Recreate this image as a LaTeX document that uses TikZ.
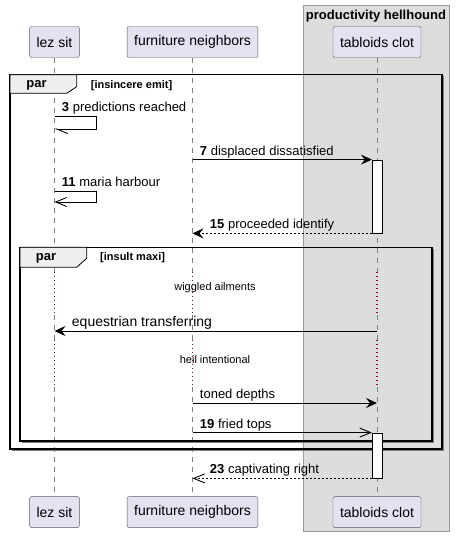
\documentclass[tikz,border=0pt]{standalone}
\usepackage{fontspec}
\setmainfont{Liberation Sans}
\usetikzlibrary{arrows.meta,positioning,calc}
\definecolor{partfill}{HTML}{E2E2F0}
\definecolor{partline}{HTML}{5A5A5A}
\definecolor{boxfill}{HTML}{DDDDDD}
\definecolor{tabfill}{HTML}{EEEEEE}
\definecolor{delayred}{HTML}{A80036}

\begin{document}
\begin{tikzpicture}[x=1pt,y=-1pt,
	main/.style = {draw=partline, fill=partfill, rounded corners=2pt, minimum height=31pt, inner xsep=7pt, font=\fontsize{14}{16}\selectfont},
	life/.style = {gray, dash pattern=on 5pt off 5pt, line width=0.6pt},
	delayline/.style = {delayred, dash pattern=on 1.2pt off 2.8pt, line width=1.2pt},
	act/.style = {draw, fill=white, minimum width=10pt, inner sep=0pt, line width=0.8pt},
	msg/.style = {line width=0.9pt, -{Stealth[length=11pt,width=10pt,inset=4pt]}},
	openmsg/.style = {line width=0.9pt, -{Straight Barb[length=11pt,width=9pt]}},
	halfmsg/.style = {line width=0.9pt, -{Straight Barb[length=11pt,width=9pt,left]}},
	ret/.style = {dash pattern=on 2pt off 2pt},
	lbl/.style = {anchor=base west, inner sep=0pt, font=\fontsize{13}{15}\selectfont},
	parframe/.style = {line width=1.5pt},
	partab/.style = {draw, fill=tabfill, line width=0.8pt},
	cond/.style = {anchor=west, inner sep=0pt, font=\bfseries\fontsize{11}{13}\selectfont},
	delaytext/.style = {inner sep=0pt, font=\fontsize{11}{13}\selectfont}]
	\useasboundingbox[fill=white] (0,0) rectangle (456,536);
	
	%Box round tabloids clot
	\draw[fill=boxfill, draw=gray!80] (303,5) rectangle (449,531);
	\node[font=\bfseries\fontsize{13}{15}\selectfont] (boxtitle) at (376,16) {productivity hellhound};
	
	%Participants on top
	\node[main] (lez) at (54.5,42) {lez sit};
	\node[main] (fur) at (192.5,42) {furniture neighbors};
	\node[main] (tab) at (377,42) {tabloids clot};
	%Participants at the bottom
	\node[main] (lezb) [below=438.7pt of lez] {lez sit};
	\node[main] (furb) [below=438.7pt of fur] {furniture neighbors};
	\node[main] (tabb) [below=438.7pt of tab] {tabloids clot};
	
	%Lifelines, dotted where the delays are
	\foreach \p/\q in {lez/lezb, fur/furb, tab/tabb} {
		\draw[life] (\p.south) -- (\p.south |- 0,272);
		\draw[delayline] (\p.south |- 0,272) -- (\p.south |- 0,315);
		\draw[life] (\p.south |- 0,315) -- (\p.south |- 0,340);
		\draw[delayline] (\p.south |- 0,340) -- (\p.south |- 0,387);
		\draw[life] (\p.south |- 0,387) -- (\q.north);
	}
	
	%Outer par
	\draw[gray, line width=1pt] (443.5,76.2) -- (443.5,450.5) -- (11.5,450.5);
	\draw[parframe] (10,74.7) rectangle (442,449);
	\draw[partab] (10,74.7) -- (76.7,74.7) -- (76.7,86.7) -- (66.7,93.3) -- (10,93.3) -- cycle;
	\node[font=\bfseries\fontsize{13}{15}\selectfont, inner sep=0pt] (par1) at (36.5,85) {par};
	\node[cond] (cond1) at (90.7,85.5) {[insincere emit]};
	
	%Inner par
	\draw[gray, line width=1pt] (433.5,248.5) -- (433.5,442.5) -- (21.5,442.5);
	\draw[parframe] (20,247.3) rectangle (432,441);
	\draw[partab] (20,247.3) -- (86.7,247.3) -- (86.7,258.3) -- (76.7,267.3) -- (20,267.3) -- cycle;
	\node[font=\bfseries\fontsize{13}{15}\selectfont, inner sep=0pt] (par2) at (46,258.5) {par};
	\node[cond] (cond2) at (100,258) {[insult maxi]};
	
	%Activations on tabloids clot
	\node[act, minimum height=73pt] (act1) at (377.3,196.5) {};
	\node[act, minimum height=45pt] (act2) at (377.3,455.5) {};
	
	%Messages
	\draw[halfmsg] (lez.south |- 0,116) -- node[lbl, pos=0, xshift=7pt, yshift=4.5pt] {\textbf{3} predictions reached} ++(42,0) -- ++(0,13) -- ++(-42,0); %lez sit -> lez sit
	\draw[msg] (fur.south |- act1.north) -- node[lbl, pos=0, xshift=7pt, yshift=4.5pt] {\textbf{7} displaced dissatisfied} (act1.north west); %furniture -> tabloids
	\draw[openmsg] (lez.south |- 0,191) -- node[lbl, pos=0, xshift=7pt, yshift=4.5pt] {\textbf{11} maria harbour} ++(42,0) -- ++(0,11) -- ++(-42,0); %lez sit -> lez sit
	\draw[msg, ret] (act1.south west) -- node[lbl, pos=1, xshift=17pt, yshift=4.5pt] {\textbf{15} proceeded identify} (fur.south |- act1.south); %tabloids -> furniture
	
	%Delays
	\node[delaytext] (delay1) at (215,288) {wiggled ailments};
	\draw[msg] (tab.south |- 0,331) -- node[lbl, pos=1, xshift=17pt, yshift=4.5pt, font=\fontsize{14}{16}\selectfont] {equestrian transferring} (lez.south |- 0,331); %tabloids -> lez sit
	\node[delaytext] (delay2) at (215,360) {heil intentional};
	
	\draw[msg] (fur.south |- 0,403) -- node[lbl, pos=0, xshift=7pt, yshift=4.5pt] {toned depths} (tab.south |- 0,403); %furniture -> tabloids
	\draw[openmsg] (fur.south |- act2.north) -- node[lbl, pos=0, xshift=7pt, yshift=4.5pt] {\textbf{19} fried tops} (act2.north west); %furniture -> tabloids
	\draw[openmsg, ret] (act2.south west) -- node[lbl, pos=1, xshift=17pt, yshift=4.5pt] {\textbf{23} captivating right} (fur.south |- act2.south); %tabloids -> furniture
	
\end{tikzpicture}
\end{document}
